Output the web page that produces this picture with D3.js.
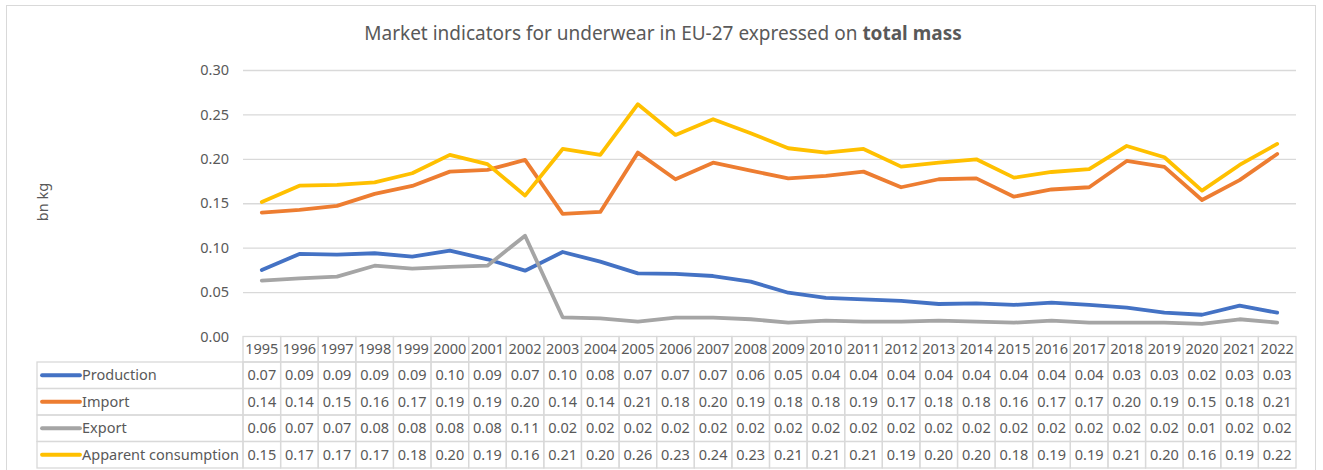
<!DOCTYPE html>
<html>
<head>
<meta charset="utf-8">
<script src="https://cdn.jsdelivr.net/npm/d3@7"></script>
<style>
  body { margin: 0; background: #fff; }
  svg { display: block; font-family: "Noto Sans", "Open Sans", sans-serif; }
</style>
</head>
<body>
<svg id="chart" width="1323" height="470"></svg>
<script>
// Market indicators for underwear, EU-27, billion kg
const years = [1995, 1996, 1997, 1998, 1999, 2000, 2001, 2002, 2003, 2004, 2005, 2006, 2007, 2008,
               2009, 2010, 2011, 2012, 2013, 2014, 2015, 2016, 2017, 2018, 2019, 2020, 2021, 2022];

const production = [0.0749, 0.0929, 0.0921, 0.0937, 0.0899, 0.0966, 0.0869, 0.0741, 0.0951, 0.0843,
                    0.0711, 0.0704, 0.0681, 0.0617, 0.0493, 0.0434, 0.0419, 0.0400, 0.0366, 0.0374,
                    0.0355, 0.0381, 0.0355, 0.0325, 0.0268, 0.0245, 0.0347, 0.0268];

const imports = [0.1394, 0.1425, 0.1470, 0.1605, 0.1695, 0.1856, 0.1875, 0.1988, 0.1380, 0.1402,
                 0.2070, 0.1770, 0.1957, 0.1867, 0.1780, 0.1807, 0.1856, 0.1680, 0.1770, 0.1780,
                 0.1574, 0.1655, 0.1680, 0.1976, 0.1910, 0.1537, 0.1760, 0.2055];

const exports = [0.0629, 0.0655, 0.0674, 0.0797, 0.0764, 0.0783, 0.0797, 0.1135, 0.0216, 0.0205,
                 0.0167, 0.0212, 0.0212, 0.0194, 0.0156, 0.0178, 0.0167, 0.0167, 0.0178, 0.0167,
                 0.0156, 0.0178, 0.0156, 0.0156, 0.0156, 0.0141, 0.0194, 0.0156];

const apparentConsumption = [0.1515, 0.1698, 0.1706, 0.1736, 0.1838, 0.2045, 0.1940, 0.1586, 0.2111, 0.2045,
                             0.2615, 0.2269, 0.2446, 0.2288, 0.2119, 0.2070, 0.2111, 0.1912, 0.1957, 0.1995,
                             0.1788, 0.1852, 0.1883, 0.2145, 0.2018, 0.1642, 0.1931, 0.2168];

const seriesNames = ["Production", "Import", "Export", "Apparent consumption"];
const seriesColors = ["#4472C4", "#ED7D31", "#A5A5A5", "#FFC000"];
const yTicks = [0, 0.05, 0.10, 0.15, 0.20, 0.25, 0.30];

const titleText = "Market indicators for underwear in EU-27 expressed on ";
const titleBold = "total mass";
const yAxisTitle = "bn kg";

const seriesValues = [production, imports, exports, apparentConsumption];
const series = seriesNames.map((name, i) => ({ name, color: seriesColors[i], values: seriesValues[i] }));

// Layout
const W = 1323, H = 470;
const plot = { left: 243, right: 1296, top: 70, bottom: 336.5 };
const table = { legendLeft: 37, headerTop: 336.5, headerH: 25.5, rowH: 26.5 };
const textColor = "#595959";
const gridColor = "#D9D9D9";
const tableColor = "#D9D9D9";

const svg = d3.select("#chart");

// Chart area border
svg.append("rect")
  .attr("x", 6.5).attr("y", 5.5)
  .attr("width", 1309).attr("height", H)
  .attr("fill", "#fff").attr("stroke", "#D9D9D9").attr("stroke-width", 1);

// Title
const title = svg.append("text")
  .attr("x", 663).attr("y", 40)
  .attr("text-anchor", "middle")
  .attr("fill", textColor)
  .style("font-size", "19px");
title.append("tspan").text(titleText);
title.append("tspan").attr("font-weight", "bold").text(titleBold);

// Scales
const x = d3.scaleBand().domain(years).range([plot.left, plot.right]).padding(0);
const y = d3.scaleLinear().domain([0, 0.30]).range([plot.bottom, plot.top]);
const cx = d => x(d) + x.bandwidth() / 2;

// Gridlines and y-axis labels
const yAxis = d3.axisLeft(y)
  .tickValues(yTicks)
  .tickFormat(d3.format(".2f"))
  .tickSize(-(plot.right - plot.left))
  .tickPadding(14);

const yg = svg.append("g")
  .attr("transform", `translate(${plot.left},0)`)
  .call(yAxis);
yg.select(".domain").remove();
yg.selectAll(".tick line").attr("stroke", gridColor).attr("stroke-width", 1.3);
yg.selectAll(".tick text")
  .attr("fill", textColor)
  .style("font-size", "14.5px")
  .style("font-family", "\"Noto Sans\", sans-serif");
yg.selectAll(".tick").filter(d => d === 0).select("line").remove();

// Y-axis title
svg.append("text")
  .attr("transform", `translate(48,202) rotate(-90)`)
  .attr("text-anchor", "middle")
  .attr("fill", textColor)
  .style("font-size", "14.5px")
  .text(yAxisTitle);

// Lines
const line = d3.line()
  .x((d, i) => cx(years[i]))
  .y(d => y(d));

svg.append("g").selectAll("path")
  .data(series)
  .join("path")
  .attr("d", s => line(s.values))
  .attr("fill", "none")
  .attr("stroke", s => s.color)
  .attr("stroke-width", 3.8)
  .attr("stroke-linejoin", "round")
  .attr("stroke-linecap", "round");

// Data table
const tg = svg.append("g");
const fmt = d3.format(".2f");

// Header row with years
tg.selectAll("rect.year")
  .data(years)
  .join("rect")
  .attr("class", "year")
  .attr("x", d => x(d)).attr("y", table.headerTop)
  .attr("width", x.bandwidth()).attr("height", table.headerH)
  .attr("fill", "none").attr("stroke", tableColor).attr("stroke-width", 1.3);

tg.selectAll("text.year")
  .data(years)
  .join("text")
  .attr("class", "year")
  .attr("x", d => cx(d))
  .attr("y", table.headerTop + table.headerH / 2)
  .attr("dy", "0.36em")
  .attr("text-anchor", "middle")
  .attr("fill", textColor)
  .style("font-size", "14.5px")
  .text(d => d);

const rowTop = i => table.headerTop + table.headerH + i * table.rowH;

const rows = tg.selectAll("g.row")
  .data(series)
  .join("g")
  .attr("class", "row");

// Legend cell
rows.append("rect")
  .attr("x", table.legendLeft).attr("y", (s, i) => rowTop(i))
  .attr("width", plot.left - table.legendLeft).attr("height", table.rowH)
  .attr("fill", "none").attr("stroke", tableColor).attr("stroke-width", 1.3);

rows.append("line")
  .attr("x1", 42).attr("x2", 80)
  .attr("y1", (s, i) => rowTop(i) + table.rowH / 2)
  .attr("y2", (s, i) => rowTop(i) + table.rowH / 2)
  .attr("stroke", s => s.color)
  .attr("stroke-width", 3.8)
  .attr("stroke-linecap", "round");

rows.append("text")
  .attr("x", 82)
  .attr("y", (s, i) => rowTop(i) + table.rowH / 2)
  .attr("dy", "0.36em")
  .attr("fill", textColor)
  .style("font-size", "14.5px")
  .text(s => s.name);

// Value cells
rows.each(function (s, i) {
  const g = d3.select(this);
  g.selectAll("rect.cell")
    .data(s.values)
    .join("rect")
    .attr("class", "cell")
    .attr("x", (d, j) => x(years[j])).attr("y", rowTop(i))
    .attr("width", x.bandwidth()).attr("height", table.rowH)
    .attr("fill", "none").attr("stroke", tableColor).attr("stroke-width", 1.3);
  g.selectAll("text.cell")
    .data(s.values)
    .join("text")
    .attr("class", "cell")
    .attr("x", (d, j) => cx(years[j]))
    .attr("y", rowTop(i) + table.rowH / 2)
    .attr("dy", "0.36em")
    .attr("text-anchor", "middle")
    .attr("fill", textColor)
    .style("font-size", "14.5px")
    .text(d => fmt(d));
});
</script>
</body>
</html>
